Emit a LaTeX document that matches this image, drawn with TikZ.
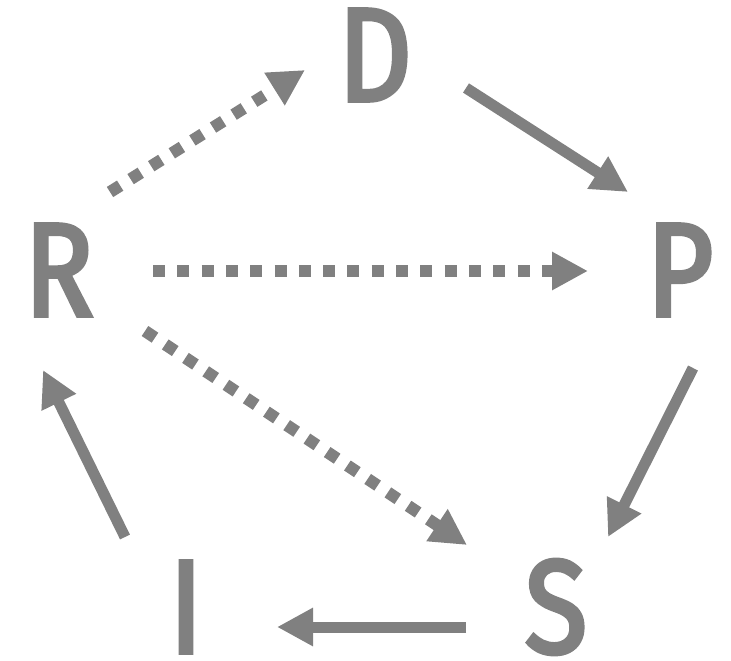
\documentclass[tikz,border=0pt]{standalone}
\usepackage{fontspec}
\newfontfamily\letterfont[FakeStretch=0.86,FakeBold=3]{Fira Sans}
\usetikzlibrary{arrows.meta}
\definecolor{ink}{HTML}{808080}
\tikzset{
  letter/.style={text=ink, inner sep=0pt, font=\fontsize{133}{133}\letterfont},
  solidarrow/.style={draw=ink, line width=11pt, -{Triangle[length=36pt,width=36pt]}},
  dotarrow/.style={draw=ink, line width=12pt, dash pattern=on 12pt off 12.3pt, -{Triangle[length=36pt,width=36pt]}}
}
\begin{document}
\begin{tikzpicture}[x=1pt,y=-1pt]
\useasboundingbox (0,0) rectangle (731,661);
\node[letter] (D) at (375,55) {D};
\node[letter] (P) at (680,270) {P};
\node[letter] (R) at (59,270) {R};
\node[letter] (I) at (186,607) {I};
\node[letter] (S) at (556,607) {S};
% connector ends
\coordinate (dp1) at (466,88);  \coordinate (dp2) at (628,192);
\coordinate (ps1) at (693,368); \coordinate (ps2) at (608,537);
\coordinate (si1) at (466,627); \coordinate (si2) at (277,627);
\coordinate (ir1) at (125,537); \coordinate (ir2) at (43,370);
\coordinate (rd1) at (110,192); \coordinate (rd2) at (305,70);
\coordinate (rp1) at (153,271); \coordinate (rp2) at (588,271);
\coordinate (rs1) at (145,331); \coordinate (rs2) at (467,545);
\draw[solidarrow] (dp1) -- (dp2);
\draw[solidarrow] (ps1) -- (ps2);
\draw[solidarrow] (si1) -- (si2);
\draw[solidarrow] (ir1) -- (ir2);
\draw[dotarrow] (rd1) -- (rd2);
\draw[dotarrow] (rp1) -- (rp2);
\draw[dotarrow] (rs1) -- (rs2);
\end{tikzpicture}
\end{document}
